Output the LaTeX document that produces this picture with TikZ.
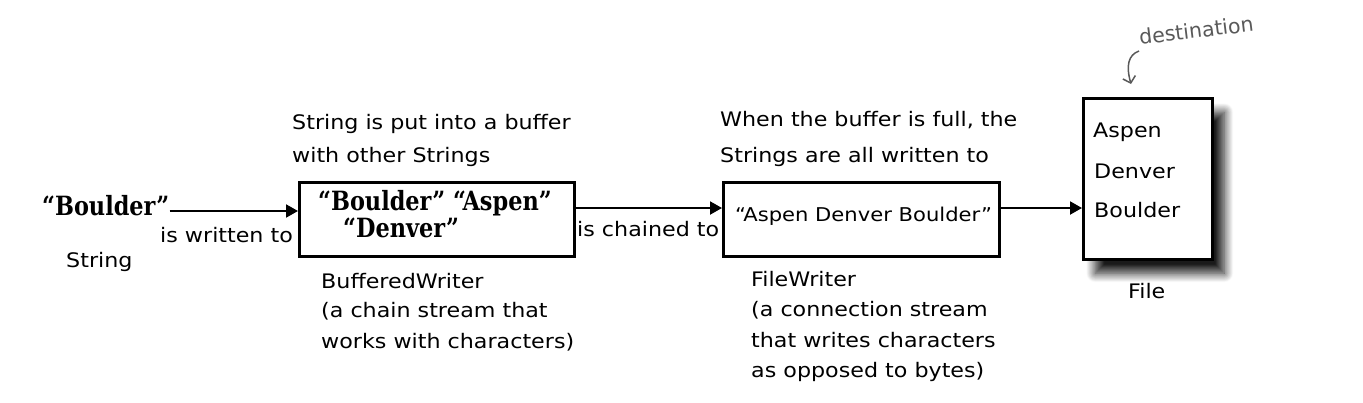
\documentclass[tikz,border=0pt]{standalone}
\usepackage{fontspec}
\setmainfont{DejaVu Sans}[FakeStretch=1.11]
\newfontfamily\slab{DejaVu Serif Condensed}[FakeStretch=0.94]
\newfontfamily\notefont{DejaVu Sans}
\usetikzlibrary{arrows.meta,shadows.blur,calc}
\begin{document}
\begin{tikzpicture}[x=1pt,y=-1pt,
  txt/.style={inner sep=0pt, anchor=base west, font=\fontsize{20}{31}\selectfont},
  big/.style={inner sep=0pt, anchor=base west, font=\slab\bfseries\fontsize{26.5}{30}\selectfont},
  box/.style={draw, line width=2.5pt, fill=white, inner sep=0pt, anchor=north west},
  arr/.style={line width=2pt, -{Triangle[length=12pt,width=13pt]}},
  note/.style={inner sep=0pt, text=black!65, font=\notefont\fontsize{20.5}{22}\selectfont}]
\useasboundingbox (0,0) rectangle (1363,402);

% left: string
\node[big] (s) at (42,215) {“Boulder”};
\node[txt] (wt) at (160,242) {is written to};
\node[txt] (sl) at (66,267) {String};

% buffered writer
\node[box, minimum width=275pt, minimum height=74pt] (bw) at (298,181) {};
\node[big] (b1) at (318,210) {“Boulder” “Aspen”};
\node[big] (b2) at (343,237) {“Denver”};
\node[txt] (bt1) at (292,129) {String is put into a buffer};
\node[txt] (bt2) at (292,162) {with other Strings};
\node[txt] (bl1) at (321,288) {BufferedWriter};
\node[txt] (bl2) at (321,317) {(a chain stream that};
\node[txt] (bl3) at (321,348) {works with characters)};

% file writer
\node[box, minimum width=276pt, minimum height=74pt] (fw) at (722,181) {};
\node[txt, font=\fontsize{19}{31}\selectfont] (fc) at (735,221) {“Aspen Denver Boulder”};
\node[txt] (ft1) at (720,126) {When the buffer is full, the};
\node[txt] (ft2) at (720,162) {Strings are all written to};
\node[txt] (fl1) at (751,286) {FileWriter};
\node[txt] (fl2) at (751,316) {(a connection stream};
\node[txt] (fl3) at (751,347) {that writes characters};
\node[txt] (fl4) at (751,377) {as opposed to bytes)};
\node[txt] (ct) at (577,236) {is chained to};

% file
\node[box, minimum width=129pt, minimum height=161pt,
  blur shadow={shadow xshift=12pt, shadow yshift=-14pt, shadow blur steps=16, shadow blur radius=9pt, shadow opacity=90}] (file) at (1082,97) {};
\node[txt] (a1) at (1093,137) {Aspen};
\node[txt] (a2) at (1094,178) {Denver};
\node[txt] (a3) at (1094,217) {Boulder};
\node[txt] (fn) at (1128,298) {File};

\node[note, rotate=7, anchor=base west] (dest) at (1140,45) {destination};
\draw[black!65, line width=1.5pt, -{Straight Barb[length=6pt,width=13pt]}]
  (1139,51) .. controls (1128,55) and (1126,66) .. (1131,84);

% connectors
\draw[arr] (s.east |- 0,211) -- (bw.west |- 0,211);
\draw[arr] (bw.east |- 0,208) -- (fw.west |- 0,208);
\draw[arr] (fw.east |- 0,208) -- (file.west |- 0,208);
\end{tikzpicture}
\end{document}
